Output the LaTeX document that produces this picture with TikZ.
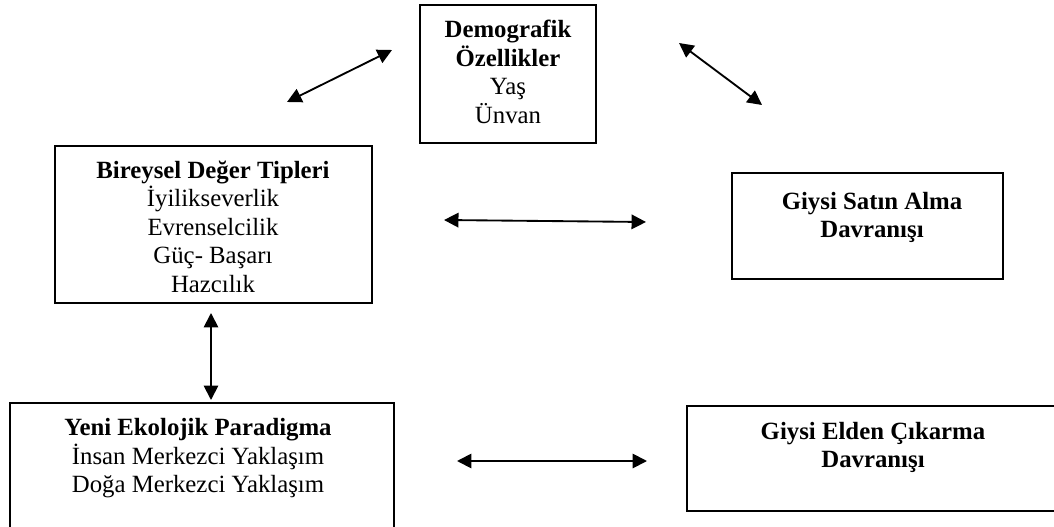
\documentclass[tikz,border=0pt]{standalone}
\usepackage{fontspec}
\setmainfont{Liberation Serif}
\usetikzlibrary{arrows.meta,positioning,calc}

\begin{document}
\begin{tikzpicture}[x=0.484pt,y=-0.484pt,
    kutu/.style={draw,line width=1pt,inner sep=0pt},
    yazi/.style={align=center,inner sep=0pt,font=\fontsize{12}{13.8}\selectfont},
    ok/.style={{Triangle[length=7pt,width=7pt]}-{Triangle[length=7pt,width=7pt]},line width=0.9pt}]
  \useasboundingbox (0,0) rectangle (1054,527);
  % kutular
  \node[kutu,minimum width=85.2pt,minimum height=66.8pt] (demo) at (508,74) {};
  \node[kutu,minimum width=153.4pt,minimum height=76pt] (birey) at (213.5,224.5) {};
  \node[kutu,minimum width=131.2pt,minimum height=51.3pt] (satin) at (867.5,226) {};
  \node[kutu,minimum width=185.9pt,minimum height=63.9pt] (eko) at (202,469) {};
  \node[kutu,minimum width=181.5pt,minimum height=50.8pt] (elden) at (874.5,458.5) {};
  % yazilar
  \node[yazi] (demotxt) at (508,72) {\textbf{Demografik}\\\textbf{Özellikler}\\Yaş\\Ünvan};
  \node[yazi] (bireytxt) at (213,226.5) {\textbf{Bireysel Değer Tipleri}\\İyilikseverlik\\Evrenselcilik\\Güç- Başarı\\Hazcılık};
  \node[yazi] (satintxt) at (872,217.5) {\textbf{Giysi Satın Alma}\\\textbf{Davranışı}};
  \node[yazi] (ekotxt) at (198,458.5) {\textbf{Yeni Ekolojik Paradigma}\\İnsan Merkezci Yaklaşım\\Doğa Merkezci Yaklaşım};
  \node[yazi] (eldentxt) at (873,447.5) {\textbf{Giysi Elden Çıkarma}\\\textbf{Davranışı}};
  % oklar
  \coordinate (a1) at (287,102);
  \coordinate (a2) at (392,50);
  \coordinate (b1) at (679,43);
  \coordinate (b2) at (762,105);
  \coordinate (c1) at (444,220);
  \coordinate (c2) at (646,222);
  \coordinate (d1) at (211,313);
  \coordinate (d2) at (211,400);
  \coordinate (e1) at (457,461);
  \coordinate (e2) at (647,461);
  \draw[ok] (a1) -- (a2);
  \draw[ok] (b1) -- (b2);
  \draw[ok] (c1) -- (c2);
  \draw[ok] (d1) -- (d2);
  \draw[ok] (e1) -- (e2);
\end{tikzpicture}
\end{document}
